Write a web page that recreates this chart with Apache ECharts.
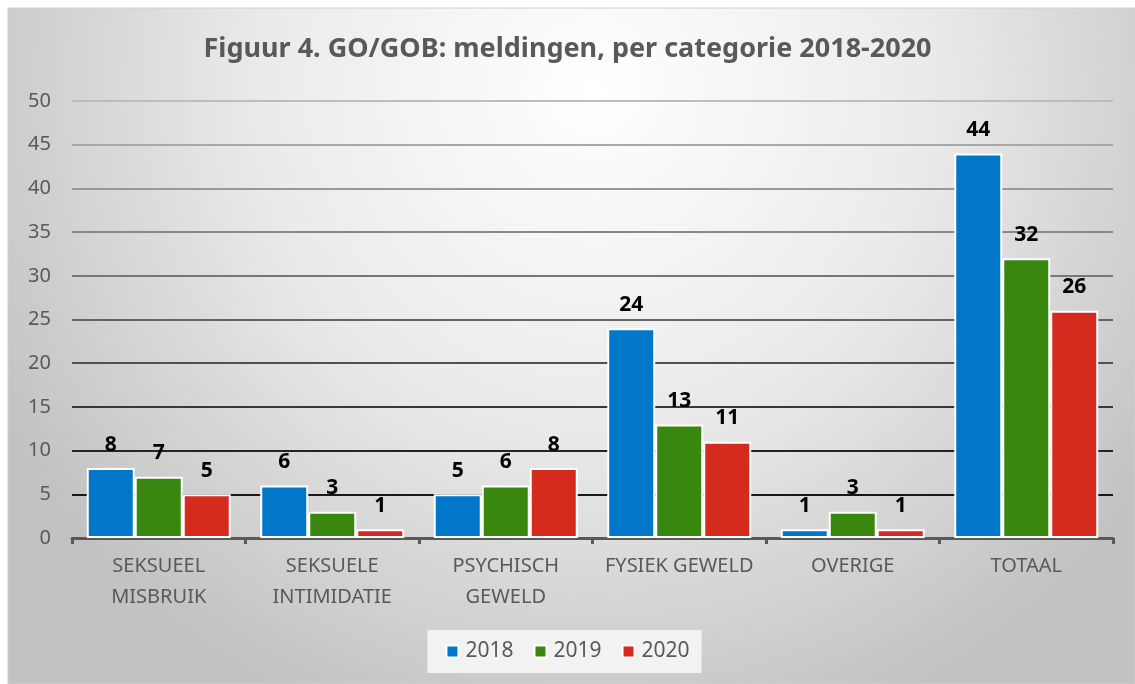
<!DOCTYPE html>
<html>
<head>
<meta charset="utf-8">
<script src="https://cdn.jsdelivr.net/npm/echarts@6/dist/echarts.min.js"></script>
<style>
  html, body { margin: 0; padding: 0; background: #fff; }
  #chart { width: 1135px; height: 684px; }
</style>
</head>
<body>
<div id="chart"></div>
<script>
const categories = ['SEKSUEEL\nMISBRUIK', 'SEKSUELE\nINTIMIDATIE', 'PSYCHISCH\nGEWELD', 'FYSIEK GEWELD', 'OVERIGE', 'TOTAAL'];
const values2018 = [8, 6, 5, 24, 1, 44];
const values2019 = [7, 3, 6, 13, 3, 32];
const values2020 = [5, 1, 8, 11, 1, 26];
const seriesColors = ['#0077c8', '#3a870f', '#d52b1e'];

// grid lines get darker towards the bottom, one colour per tick from 0 up
const gridColors = ['#000', '#181818', '#242424', '#383838', '#505050', '#646464', '#767676', '#888888', '#989898', '#a8a8a8', '#bdbdbd'];

const font = '"Noto Sans", "Open Sans", sans-serif';
const chart = echarts.init(document.getElementById('chart'));

const barSeries = (name, data, color) => ({
  name,
  type: 'bar',
  data,
  barGap: '0%',
  barCategoryGap: '17%',
  itemStyle: { color, borderColor: '#fff', borderWidth: 2 },
  label: {
    show: true,
    position: 'top',
    distance: 13,
    color: '#000',
    fontWeight: 'bold',
    fontSize: 21,
    fontFamily: font
  }
});

chart.setOption({
  backgroundColor: '#fff',
  animation: false,
  graphic: [{
    type: 'rect',
    z: -10,
    silent: true,
    shape: { x: 8, y: 8, width: 1127, height: 676 },
    style: {
      fill: {
        type: 'radial', x: 0.52, y: 0.12, r: 1.0,
        colorStops: [
          { offset: 0, color: '#ffffff' },
          { offset: 0.5, color: '#eaeaea' },
          { offset: 1, color: '#c2c2c2' }
        ]
      },
      stroke: '#d0d0d0',
      lineWidth: 1
    }
  }],
  title: {
    text: 'Figuur 4. GO/GOB: meldingen, per categorie 2018-2020',
    left: 'center',
    top: 31,
    textStyle: { color: '#595959', fontSize: 27, fontWeight: 'bold', fontFamily: font }
  },
  legend: {
    bottom: 11,
    left: 'center',
    itemWidth: 12,
    itemHeight: 12,
    itemGap: 20,
    padding: [11, 12, 11, 18],
    backgroundColor: '#f2f2f2',
    icon: 'rect',
    textStyle: { color: '#595959', fontSize: 21, fontFamily: font, padding: [0, 0, 0, 2] }
  },
  grid: { left: 72, right: 22, top: 101, bottom: 146 },
  xAxis: {
    type: 'category',
    data: categories,
    axisLine: { lineStyle: { color: '#595959', width: 3 } },
    axisTick: { show: true, interval: 0, length: 6, lineStyle: { color: '#595959', width: 3 } },
    axisLabel: {
      interval: 0,
      color: '#595959',
      fontSize: 20,
      fontFamily: font,
      margin: 13,
      lineHeight: 31
    }
  },
  yAxis: {
    type: 'value',
    min: 0,
    max: 50,
    interval: 5,
    axisLine: { show: false },
    axisTick: { show: false },
    axisLabel: { color: '#595959', fontSize: 20, fontFamily: font, margin: 21 },
    splitLine: { lineStyle: { color: gridColors, width: 2 } }
  },
  series: [
    barSeries('2018', values2018, seriesColors[0]),
    barSeries('2019', values2019, seriesColors[1]),
    barSeries('2020', values2020, seriesColors[2])
  ]
});
</script>
</body>
</html>
